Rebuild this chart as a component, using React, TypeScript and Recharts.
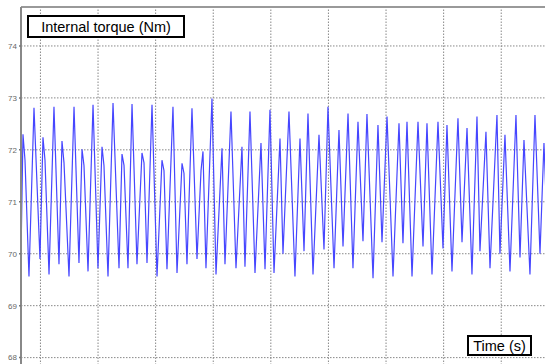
import React from "react";
import {
  LineChart,
  Line,
  XAxis,
  YAxis,
  CartesianGrid,
  ReferenceLine,
} from "recharts";

// Time (s) samples
const times: number[] = [
  0.063, 0.097, 0.132, 0.201, 0.288, 0.392, 0.444, 0.479, 0.549, 0.635,
  0.722, 0.774, 0.809, 0.896, 0.983, 1.069, 1.122, 1.156, 1.226, 1.313,
  1.399, 1.469, 1.503, 1.573, 1.66, 1.764, 1.816, 1.851, 1.92, 1.99,
  2.076, 2.163, 2.198, 2.25, 2.337, 2.424, 2.51, 2.545, 2.597, 2.701,
  2.771, 2.858, 2.892, 2.944, 3.031, 3.118, 3.188, 3.222, 3.274, 3.378,
  3.448, 3.552, 3.604, 3.708, 3.795, 3.899, 3.951, 4.038, 4.125, 4.229,
  4.299, 4.385, 4.455, 4.559, 4.611, 4.715, 4.819, 4.906, 4.976, 5.045,
  5.132, 5.236, 5.323, 5.392, 5.497, 5.583, 5.653, 5.74, 5.826, 5.913,
  6.0, 6.069, 6.174, 6.26, 6.33, 6.417, 6.521, 6.625, 6.694, 6.764,
  6.851, 6.955, 7.042, 7.111, 7.198, 7.302, 7.389, 7.458, 7.545, 7.649,
  7.719, 7.806, 7.892, 7.979, 8.031, 8.135, 8.205, 8.326, 8.378, 8.465,
  8.552, 8.656, 8.726, 8.795, 8.899, 8.986, 9.073, 9.142, 9.229, 9.316,
];

// Internal torque (Nm)
const torque: number[] = [
  70.0, 72.3, 71.8, 69.56, 72.81, 69.9, 72.24, 71.8, 69.6, 72.83,
  69.8, 72.17, 71.75, 69.56, 72.83, 69.82, 72.01, 71.7, 69.66, 72.87,
  69.72, 72.06, 71.7, 69.56, 72.9, 69.72, 71.92, 71.7, 69.72, 72.88,
  69.8, 71.94, 71.75, 69.82, 72.87, 69.56, 71.8, 71.6, 69.7, 72.83,
  69.63, 71.74, 71.55, 69.8, 72.8, 69.9, 71.6, 71.97, 69.72, 72.99,
  69.6, 72.03, 69.8, 72.74, 69.72, 72.06, 69.75, 72.74, 69.63, 72.13,
  69.7, 72.77, 69.63, 72.22, 70.0, 72.74, 69.56, 72.22, 70.05, 72.7,
  69.6, 72.29, 70.08, 72.83, 69.72, 72.38, 70.14, 72.7, 69.72, 72.54,
  70.24, 72.69, 69.53, 72.48, 70.22, 72.64, 69.56, 72.51, 70.2, 72.54,
  69.56, 72.54, 70.14, 72.51, 69.6, 72.54, 70.1, 72.48, 69.66, 72.61,
  70.22, 72.42, 69.6, 72.64, 70.05, 72.35, 69.72, 72.67, 70.0, 72.29,
  69.66, 72.67, 69.93, 72.19, 69.6, 72.67, 70.0, 72.13, 69.6, 72.7,
];

const xTicks: number[] = [0.4, 1.4, 2.4, 3.4, 4.4, 5.4, 6.4, 7.4, 8.4];
const yTicks: number[] = [68, 69, 70, 71, 72, 73, 74];
const xDomain: [number, number] = [0.0625, 9.403];
const yDomain: [number, number] = [67.8, 74.75];

const yLabel = "Internal torque (Nm)";
const xLabel = "Time (s)";

const data = times.map((t, i) => ({ t, v: torque[i] }));

const boxStyle: React.CSSProperties = {
  position: "absolute",
  boxSizing: "border-box",
  border: "2px solid #000",
  background: "#fff",
  fontFamily: "'Liberation Sans', Arial, sans-serif",
  color: "#000",
  whiteSpace: "nowrap",
  display: "flex",
  alignItems: "center",
  justifyContent: "center",
};

export default function App() {
  return (
    <div
      style={{
        position: "absolute",
        left: 0,
        top: 0,
        width: 545,
        height: 364,
        overflow: "hidden",
        background: "#fff",
      }}
    >
      <LineChart
        width={560}
        height={388}
        data={data}
        margin={{ top: 7, right: 1, bottom: 0, left: 0 }}
      >
        <CartesianGrid
          stroke="#888"
          strokeDasharray="1.5 1.5"
          strokeWidth={1}
          vertical={false}
        />
        {xTicks.map((t) => (
          <ReferenceLine
            key={t}
            x={t}
            stroke="#888"
            strokeDasharray="1.5 1.5"
            strokeWidth={1}
          />
        ))}
        <ReferenceLine y={yDomain[1]} stroke="#999" strokeWidth={2} />
        <XAxis
          dataKey="t"
          type="number"
          domain={xDomain}
          ticks={xTicks}
          allowDataOverflow
          height={20}
          axisLine={{ stroke: "#888", strokeWidth: 2 }}
          tickLine={false}
          tickFormatter={() => ""}
        />
        <YAxis
          type="number"
          domain={yDomain}
          ticks={yTicks}
          allowDataOverflow
          width={21}
          axisLine={{ stroke: "#888", strokeWidth: 2 }}
          tickLine={{ stroke: "#777", strokeWidth: 1.5 }}
          tickSize={2}
          tickMargin={2}
          tick={{
            fill: "#666",
            fontSize: 8,
            fontFamily: "'Liberation Sans', Arial, sans-serif",
          }}
        />
        <Line
          type="linear"
          dataKey="v"
          stroke="#4646ff"
          strokeWidth={1.2}
          dot={false}
          isAnimationActive={false}
        />
      </LineChart>
      <div
        style={{
          ...boxStyle,
          left: 27,
          top: 15,
          width: 158,
          height: 23,
          fontSize: 14.5,
        }}
      >
        {yLabel}
      </div>
      <div
        style={{
          ...boxStyle,
          left: 467,
          top: 335,
          width: 65,
          height: 21,
          fontSize: 14.5,
        }}
      >
        {xLabel}
      </div>
    </div>
  );
}
